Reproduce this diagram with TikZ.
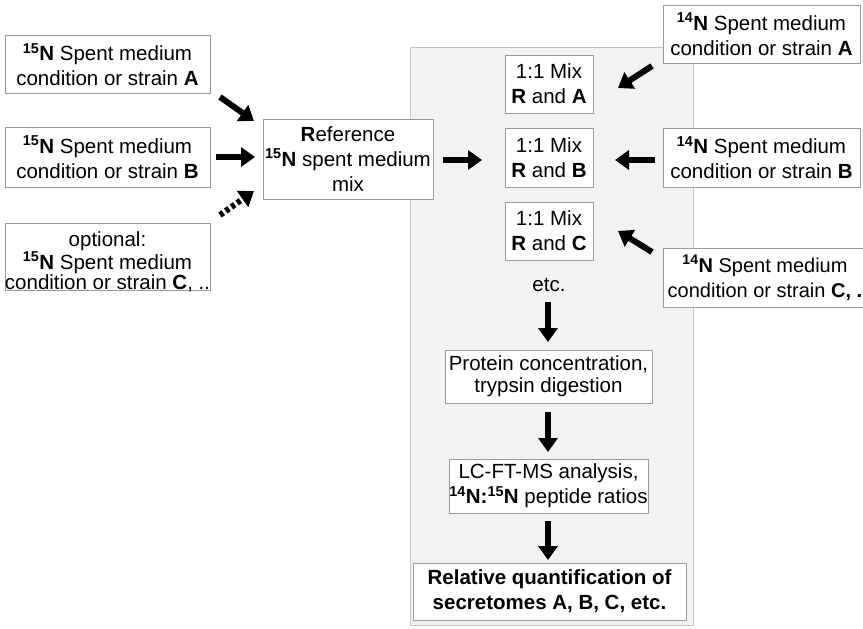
\documentclass[tikz,border=0pt]{standalone}
\usepackage{fontspec}
\setmainfont{Liberation Sans}
\usetikzlibrary{arrows.meta}
\newcommand{\isoN}[1]{\textsuperscript{\textbf{#1}}\textbf{N}}
\definecolor{panelfill}{HTML}{F2F2F2}
\definecolor{panelline}{HTML}{C4C4C4}
\definecolor{boxline}{HTML}{9A9A9A}
\begin{document}
\begin{tikzpicture}[x=1pt,y=-1pt,
  box/.style={draw=boxline, line width=0.9pt, fill=white, align=center, inner sep=0pt,
     font=\fontsize{20.5}{25}\selectfont},
  plain/.style={align=center, inner sep=0pt, font=\fontsize{20.5}{25}\selectfont},
  bigarrow/.style={line width=6pt, -{Triangle[length=14pt,width=19pt]}, black},
  dasharrow/.style={line width=6pt, -{Triangle[length=14pt,width=19pt]}, black, dash pattern=on 4pt off 3pt}]
\useasboundingbox (0,0) rectangle (863,629);
% panel
\fill[panelfill, draw=panelline, line width=0.9pt] (410,47) rectangle (693,625);
% left boxes
\node[box, minimum width=205pt, minimum height=58pt] (n15A) at (107.5,64.5) {\isoN{15} Spent medium\\condition or strain \textbf{A}};
\node[box, minimum width=205pt, minimum height=60pt] (n15B) at (107.5,157) {\isoN{15} Spent medium\\condition or strain \textbf{B}};
\node[box, minimum width=205pt, minimum height=67pt] (n15C) at (107.5,256.5) {};
\node[plain, font=\fontsize{20.5}{20.5}\selectfont] (n15Ct) at (107.5,262) {optional:\\\isoN{15} Spent medium\\condition or strain \textbf{C}, ..};
% reference
\node[box, minimum width=170pt, minimum height=80pt] (ref) at (348,159) {\textbf{R}eference\\\isoN{15} spent medium\\mix};
% mixes
\node[box, minimum width=88pt, minimum height=58pt] (mixA) at (549,84) {1:1 Mix\\\textbf{R} and \textbf{A}};
\node[box, minimum width=88pt, minimum height=59pt] (mixB) at (549,157.5) {1:1 Mix\\\textbf{R} and \textbf{B}};
\node[box, minimum width=88pt, minimum height=58pt] (mixC) at (549,231) {1:1 Mix\\\textbf{R} and \textbf{C}};
\node[plain] (etc) at (549,285) {etc.};
% right boxes
\node[box, minimum width=197pt, minimum height=58pt] (n14A) at (761.5,34) {\isoN{14} Spent medium\\condition or strain \textbf{A}};
\node[box, minimum width=197pt, minimum height=59pt] (n14B) at (761.5,157.5) {\isoN{14} Spent medium\\condition or strain \textbf{B}};
\node[box, minimum width=204pt, minimum height=59pt, font=\fontsize{20}{25}\selectfont] (n14C) at (765,277.5) {\isoN{14} Spent medium\\condition or strain \textbf{C, .}};
% lower chain
\node[box, minimum width=207pt, minimum height=53pt, font=\fontsize{20.5}{22}\selectfont] (prot) at (548.5,376.5) {Protein concentration,\\trypsin digestion};
\node[box, minimum width=199pt, minimum height=54pt] (lc) at (548.5,486) {LC-FT-MS analysis,\\\isoN{14}\textbf{:}\isoN{15} peptide ratios};
\node[box, minimum width=273pt, minimum height=57pt, font=\fontsize{20.5}{25}\selectfont\bfseries] (rel) at (549.5,591.5) {Relative quantification of\\secretomes A, B, C, etc.};
% arrow end points
\coordinate (a1s) at (220,97);  \coordinate (a1e) at (254,121);
\coordinate (a2s) at (216,157); \coordinate (a2e) at (255,157);
\coordinate (a3s) at (220,215); \coordinate (a3e) at (254,191);
\coordinate (a4s) at (443,160); \coordinate (a4e) at (482,160);
\coordinate (a5s) at (652,66);  \coordinate (a5e) at (618,88);
\coordinate (a6s) at (655,160); \coordinate (a6e) at (615,160);
\coordinate (a7s) at (652,252); \coordinate (a7e) at (618,231);
\coordinate (a8s) at (548,302); \coordinate (a8e) at (548,342);
\coordinate (a9s) at (548,412); \coordinate (a9e) at (548,452);
\coordinate (a10s) at (548,521); \coordinate (a10e) at (548,560);
\draw[bigarrow] (a1s) -- (a1e);
\draw[bigarrow] (a2s) -- (a2e);
\draw[dasharrow] (a3s) -- (a3e);
\draw[bigarrow] (a4s) -- (a4e);
\draw[bigarrow] (a5s) -- (a5e);
\draw[bigarrow] (a6s) -- (a6e);
\draw[bigarrow] (a7s) -- (a7e);
\draw[bigarrow] (a8s) -- (a8e);
\draw[bigarrow] (a9s) -- (a9e);
\draw[bigarrow] (a10s) -- (a10e);
\end{tikzpicture}
\end{document}
